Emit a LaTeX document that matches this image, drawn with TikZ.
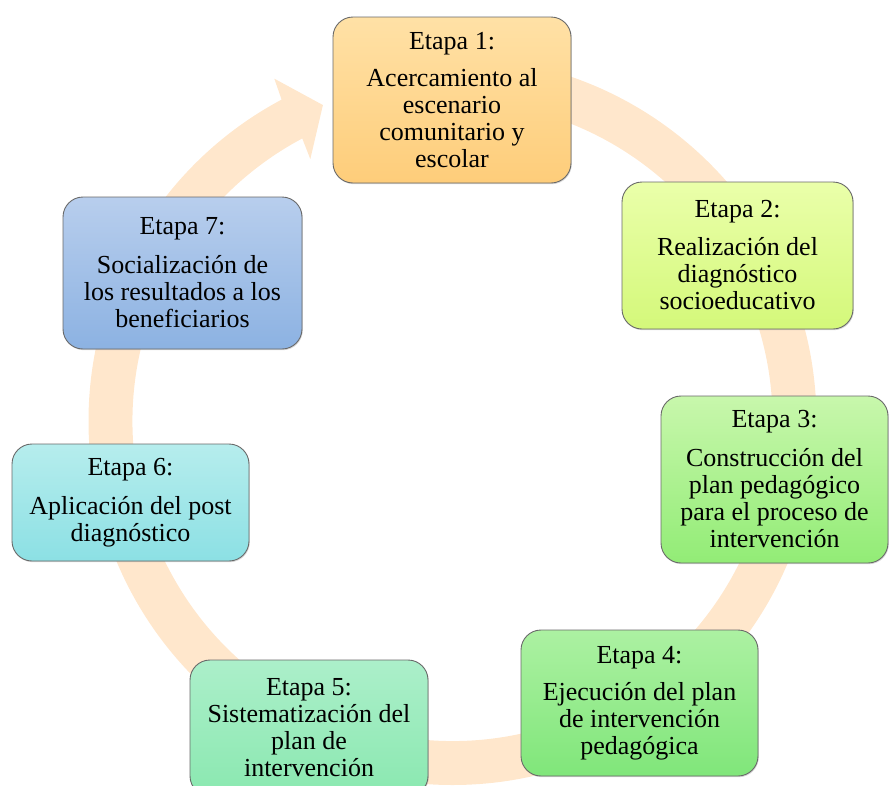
\documentclass[tikz,border=0pt]{standalone}
\usepackage{fontspec}
\setmainfont{Liberation Serif}
\usetikzlibrary{calc,shadows}
\definecolor{ringc}{RGB}{255,231,204}
\definecolor{boxline}{RGB}{105,105,105}
\definecolor{c1t}{RGB}{255,225,166}
\definecolor{c1b}{RGB}{254,205,122}
\definecolor{c2t}{RGB}{234,255,170}
\definecolor{c2b}{RGB}{212,248,122}
\definecolor{c3t}{RGB}{200,247,172}
\definecolor{c3b}{RGB}{146,236,118}
\definecolor{c4t}{RGB}{172,241,162}
\definecolor{c4b}{RGB}{128,230,122}
\definecolor{c5t}{RGB}{172,239,202}
\definecolor{c5b}{RGB}{138,232,176}
\definecolor{c6t}{RGB}{182,237,237}
\definecolor{c6b}{RGB}{140,224,228}
\definecolor{c7t}{RGB}{184,206,237}
\definecolor{c7b}{RGB}{140,178,226}
\begin{document}
\begin{tikzpicture}[x=1pt,y=1pt,
  box/.style={draw=boxline, line width=0.9pt, rounded corners=20pt, align=center,
    inner sep=0pt, font=\fontsize{26}{27}\selectfont, text=black,
    drop shadow={shadow xshift=0.8pt, shadow yshift=-1.2pt, opacity=0.3}}]
\useasboundingbox (0,0) rectangle (889,-785);
\coordinate (C) at (452.5,-421);
% circular arrow
\fill[ringc] ($(C)+(90:364pt)$) arc[start angle=90, end angle=-242, radius=364pt]
  -- ($(C)+(-242.5:386pt)$) -- ($(C)+(-247.7:341.5pt)$) -- ($(C)+(-241.5:298pt)$)
  -- ($(C)+(-242:320pt)$) arc[start angle=-242, end angle=90, radius=320pt] -- cycle;
% boxes
\node[box, minimum width=238pt, minimum height=166pt, top color=c1t, bottom color=c1b]
  (e1) at (452,-100) {Etapa 1:\\[10pt]Acercamiento al\\escenario\\comunitario y\\escolar};
\node[box, minimum width=231pt, minimum height=147pt, top color=c2t, bottom color=c2b]
  (e2) at (737.5,-255.5) {Etapa 2:\\[11pt]Realización del\\diagnóstico\\socioeducativo};
\node[box, minimum width=227pt, minimum height=167pt, top color=c3t, bottom color=c3b]
  (e3) at (774.5,-479.5) {Etapa 3:\\[12pt]Construcción del\\plan pedagógico\\para el proceso de\\intervención};
\node[box, minimum width=237pt, minimum height=146pt, top color=c4t, bottom color=c4b]
  (e4) at (639.5,-703) {Etapa 4:\\[10pt]Ejecución del plan\\de intervención\\pedagógica};
\node[box, minimum width=238pt, minimum height=136pt, top color=c5t, bottom color=c5b]
  (e5) at (309,-728) {Etapa 5:\\Sistematización del\\plan de\\intervención};
\node[box, minimum width=237pt, minimum height=117pt, top color=c6t, bottom color=c6b]
  (e6) at (130.5,-502.5) {Etapa 6:\\[12pt]Aplicación del post\\diagnóstico};
\node[box, minimum width=239pt, minimum height=152pt, top color=c7t, bottom color=c7b]
  (e7) at (182.5,-273) {Etapa 7:\\[12pt]Socialización de\\los resultados a los\\beneficiarios};
\end{tikzpicture}
\end{document}
